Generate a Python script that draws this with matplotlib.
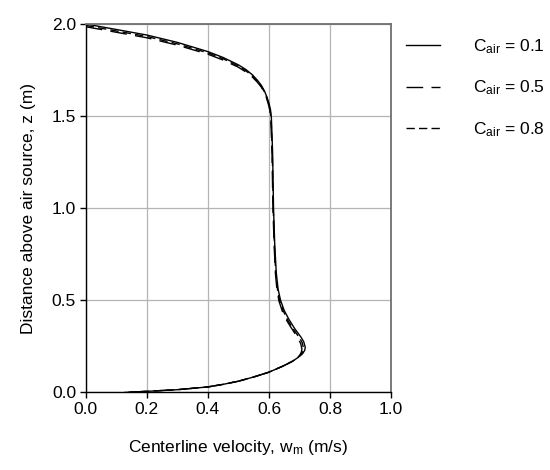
import numpy as np
import matplotlib.pyplot as plt

plt.rcParams['font.family'] = ['Liberation Sans', 'DejaVu Sans']
plt.rcParams['mathtext.fontset'] = 'custom'
plt.rcParams['mathtext.rm'] = 'Liberation Sans'
plt.rcParams['mathtext.it'] = 'Liberation Sans'

# centerline velocity w_m (m/s) vs height z (m)
w_01 = [0.000, 0.100, 0.200, 0.300, 0.400, 0.450, 0.500, 0.525, 0.545, 0.562,
        0.575, 0.585, 0.593, 0.600, 0.605, 0.608, 0.612, 0.615, 0.619, 0.624,
        0.630, 0.638, 0.650, 0.666, 0.685, 0.705, 0.714, 0.719, 0.717, 0.710,
        0.697, 0.680, 0.650, 0.600, 0.550, 0.500, 0.450, 0.400, 0.300, 0.200, 0.127]
z_01 = [2.000, 1.970, 1.940, 1.900, 1.850, 1.818, 1.778, 1.752, 1.725, 1.695,
        1.667, 1.637, 1.605, 1.570, 1.535, 1.490, 1.300, 1.000, 0.800, 0.650,
        0.560, 0.500, 0.445, 0.395, 0.345, 0.300, 0.275, 0.245, 0.228, 0.210,
        0.192, 0.172, 0.146, 0.110, 0.084, 0.061, 0.044, 0.030, 0.015, 0.006, 0.000]

w_05 = [0.000, 0.100, 0.200, 0.300, 0.400, 0.450, 0.500, 0.525, 0.545, 0.562,
        0.575, 0.585, 0.592, 0.598, 0.603, 0.606, 0.610, 0.613, 0.617, 0.621,
        0.626, 0.633, 0.644, 0.659, 0.678, 0.696, 0.704, 0.708, 0.706, 0.700,
        0.688, 0.672, 0.643, 0.597, 0.550, 0.500, 0.450, 0.400, 0.300, 0.200, 0.127]
z_05 = [1.985, 1.955, 1.925, 1.885, 1.836, 1.804, 1.765, 1.739, 1.713, 1.684,
        1.657, 1.628, 1.598, 1.565, 1.530, 1.488, 1.300, 1.000, 0.800, 0.650,
        0.560, 0.495, 0.440, 0.388, 0.338, 0.292, 0.265, 0.235, 0.218, 0.200,
        0.183, 0.165, 0.141, 0.108, 0.084, 0.061, 0.044, 0.030, 0.015, 0.006, 0.000]

w_08 = [0.000, 0.100, 0.200, 0.300, 0.400, 0.450, 0.500, 0.525, 0.545, 0.562,
        0.575, 0.585, 0.593, 0.599, 0.604, 0.607, 0.611, 0.614, 0.618, 0.622,
        0.628, 0.635, 0.647, 0.662, 0.681, 0.700, 0.709, 0.713, 0.711, 0.705,
        0.692, 0.676, 0.646, 0.598, 0.550, 0.500, 0.450, 0.400, 0.300, 0.200, 0.127]
z_08 = [1.992, 1.962, 1.932, 1.892, 1.843, 1.811, 1.771, 1.745, 1.719, 1.689,
        1.662, 1.632, 1.601, 1.567, 1.532, 1.489, 1.300, 1.000, 0.800, 0.650,
        0.560, 0.497, 0.442, 0.391, 0.341, 0.296, 0.270, 0.240, 0.223, 0.205,
        0.187, 0.168, 0.143, 0.109, 0.084, 0.061, 0.044, 0.030, 0.015, 0.006, 0.000]

labels = [r'C$_{\mathrm{air}}$ = 0.1', r'C$_{\mathrm{air}}$ = 0.5', r'C$_{\mathrm{air}}$ = 0.8']

fig = plt.figure(figsize=(5.5, 4.7), dpi=100)
ax = fig.add_axes([0.156, 0.165, 0.555, 0.784])

ax.plot(w_01, z_01, color='black', lw=1.0, ls='-', label=labels[0])
ax.plot(w_05, z_05, color='black', lw=1.0, ls=(0, (12, 6)), label=labels[1])
ax.plot(w_08, z_08, color='black', lw=1.0, ls=(0, (6, 3)), label=labels[2])

ax.set_xlim(0, 1.0)
ax.set_ylim(0, 2.0)
ax.set_xticks(np.arange(0, 1.01, 0.2))
ax.set_yticks(np.arange(0, 2.01, 0.5))
ax.set_xticklabels(['%.1f' % v for v in np.arange(0, 1.01, 0.2)])
ax.set_yticklabels(['%.1f' % v for v in np.arange(0, 2.01, 0.5)])
ax.grid(True, color='#b4b4b4', lw=0.9)
ax.set_axisbelow(True)
ax.tick_params(axis='both', direction='out', length=4, width=1, labelsize=12.5, pad=3)

for s in ['left', 'bottom']:
    ax.spines[s].set_color('black')
    ax.spines[s].set_linewidth(1.0)
for s in ['top', 'right']:
    ax.spines[s].set_color('#707070')
    ax.spines[s].set_linewidth(1.3)

ax.set_xlabel(r'Centerline velocity, w$_{\mathrm{m}}$ (m/s)', fontsize=12.5, labelpad=15)
ax.set_ylabel('Distance above air source, z (m)', fontsize=12.5, labelpad=11)

fig.legend(loc='upper left', bbox_to_anchor=(0.725, 0.935), frameon=False,
           fontsize=12.5, handlelength=2.0, handletextpad=1.9, labelspacing=1.3,
           borderaxespad=0)

fig.savefig('out.png', dpi=100)
